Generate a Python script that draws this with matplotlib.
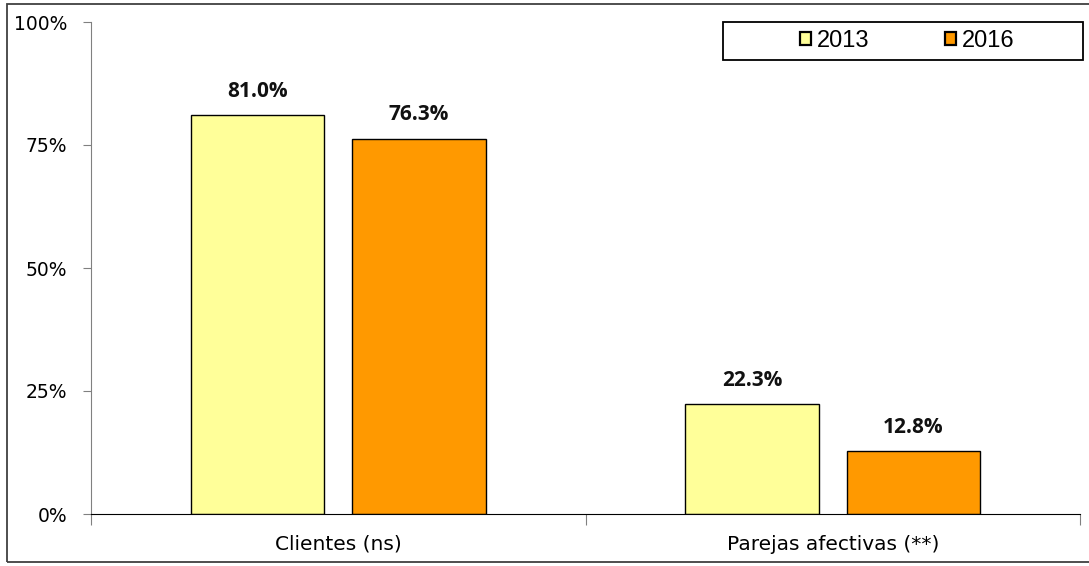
import matplotlib
matplotlib.use('Agg')
import matplotlib.pyplot as plt
import matplotlib.patches as mpatches
import numpy as np

categories = ['Clientes (ns)', 'Parejas afectivas (**)']
years = ['2013', '2016']
v2013 = [81.0, 22.3]
v2016 = [76.3, 12.8]
yticks = [0, 25, 50, 75, 100]
colors = ['#FFFF99', '#FF9900']

fig = plt.figure(figsize=(10.89, 5.66), dpi=100)
ax = fig.add_axes([91 / 1089, 52 / 566, 989 / 1089, 492 / 566])

# outer frame of the picture
fig.patches.append(mpatches.Rectangle((7 / 1089, 4 / 566), 1.2, 558 / 566,
                                      transform=fig.transFigure, fill=False,
                                      edgecolor='#404040', linewidth=1.3))

x = np.arange(len(categories))
w = 0.27
off = 0.163
b1 = ax.bar(x - off, v2013, w, color=colors[0], edgecolor='black', linewidth=1.0, label=years[0])
b2 = ax.bar(x + off, v2016, w, color=colors[1], edgecolor='black', linewidth=1.0, label=years[1])

for bars, vals in ((b1, v2013), (b2, v2016)):
    for b, v in zip(bars, vals):
        ax.annotate(f'{v:.1f}%', (b.get_x() + b.get_width() / 2, v),
                    xytext=(0, 9.5), textcoords='offset points', ha='center', va='bottom',
                    fontsize=15, fontweight='bold', family='Open Sans', color='#111111')

ax.set_xlim(-0.5, 1.5)
ax.set_ylim(0, 100)
ax.set_yticks(yticks)
ax.set_yticklabels([f'{t}%' for t in yticks], fontsize=13.5, family='DejaVu Sans')
ax.tick_params(axis='y', length=6, color='#808080', pad=11)

# category boundaries as x ticks, labels at centres
ax.set_xticks([-0.5, 0.5, 1.5])
ax.set_xticklabels([])
ax.set_xticks(x, minor=True)
ax.set_xticklabels(categories, minor=True, fontsize=14.5, family='DejaVu Sans')
ax.tick_params(axis='x', which='major', length=8, color='#808080')
ax.tick_params(axis='x', which='minor', length=0, pad=15)

for s in ('top', 'right'):
    ax.spines[s].set_visible(False)
ax.spines['left'].set_color('#808080')
ax.spines['bottom'].set_color('black')

# legend box drawn separately, entries centred inside
ax.add_patch(mpatches.Rectangle((632 / 989, 0.9228), 360 / 989, 0.0772, transform=ax.transAxes,
                                fill=False, edgecolor='black', linewidth=1.3, clip_on=False))
leg = ax.legend(loc='center', ncol=2, bbox_to_anchor=(0.8255, 0.9614),
                frameon=False, prop={'family': 'Liberation Sans', 'size': 17},
                handlelength=0.47, handleheight=0.47, handletextpad=0.25,
                columnspacing=3.2, borderpad=0, borderaxespad=0)
for h in leg.legend_handles:
    h.set_linewidth(1.6)

fig.savefig('out.png', dpi=100)
